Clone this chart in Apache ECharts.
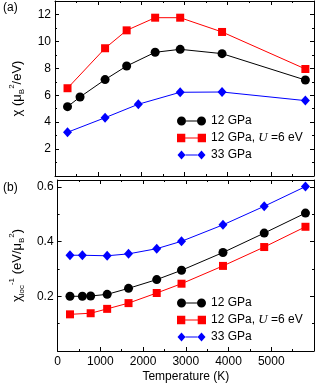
<!DOCTYPE html>
<html><head><meta charset="utf-8">
<script src="https://cdn.jsdelivr.net/npm/echarts@6/dist/echarts.min.js"></script>
<style>html,body{margin:0;padding:0;background:#fff}#c{width:317px;height:384px}</style>
</head><body><div id="c"></div>
<script>
// ---- data ----
const T_top_12 = [290, 580, 1160, 1660, 2320, 2900, 3870, 5800];
const chi_12   = [5.15, 5.87, 7.16, 8.17, 9.19, 9.41, 9.09, 7.13];
const T_top_U6 = [290, 1160, 1660, 2320, 2900, 3870, 5800];
const chi_U6   = [6.52, 9.49, 10.82, 11.76, 11.76, 10.70, 7.95];
const T_top_33 = [290, 1160, 1930, 2900, 3870, 5800];
const chi_33   = [3.25, 4.33, 5.33, 6.22, 6.24, 5.60];

const T_bot_12 = [290, 580, 774, 1160, 1660, 2320, 2900, 3870, 4835, 5800];
const inv_12   = [0.200, 0.200, 0.201, 0.207, 0.229, 0.261, 0.295, 0.360, 0.431, 0.504];
const T_bot_U6 = [290, 774, 1160, 1660, 2320, 2900, 3870, 4835, 5800];
const inv_U6   = [0.134, 0.138, 0.154, 0.175, 0.212, 0.246, 0.311, 0.380, 0.454];
const T_bot_33 = [290, 580, 1160, 1660, 2320, 2900, 3870, 4835, 5800];
const inv_33   = [0.350, 0.350, 0.348, 0.355, 0.374, 0.401, 0.461, 0.529, 0.601];

const seriesNames = ['12 GPa', '12 GPa, U=6 eV', '33 GPa'];
const xTickLabels = ['0', '1000', '2000', '3000', '4000', '5000'];

// ---- styling ----
const FONT = 'Liberation Sans, Arial, Helvetica, sans-serif';
const colors = ['#000000', '#ff0000', '#0000ff'];
const zip = (a, b) => a.map((v, i) => [v, b[i]]);

const iconCircle = 'path://M0,4.5A4.5,4.5 0 1,1 9,4.5A4.5,4.5 0 1,1 0,4.5Z M20,4.5A4.5,4.5 0 1,1 29,4.5A4.5,4.5 0 1,1 20,4.5Z M9,4 L20,4 L20,5 L9,5Z';
const iconSquare = 'path://M0.5,0.5 L8.5,0.5 L8.5,8.5 L0.5,8.5Z M20.5,0.5 L28.5,0.5 L28.5,8.5 L20.5,8.5Z M8.5,4 L20.5,4 L20.5,5 L8.5,5Z';
const iconDiamond = 'path://M0.5,4.5 L4.5,0 L8.5,4.5 L4.5,9Z M20.5,4.5 L24.5,0 L28.5,4.5 L24.5,9Z M8.5,4 L20.5,4 L20.5,5 L8.5,5Z';
const icons = [iconCircle, iconSquare, iconDiamond];
const symbols = ['circle', 'rect', 'diamond'];
const symSizes = [9, 8, [9, 10]];

const grids = [
  {left: 46, top: 1, width: 268, height: 175},
  {left: 46, top: 180, width: 268, height: 175}
];

function xAx(grid, pos, labels) {
  return {
    type: 'value', gridIndex: grid, position: pos, min: 0, max: 6000, interval: 1000,
    axisLine: {show: true, onZero: false, lineStyle: {color: '#000', width: 1}},
    axisTick: {show: true, inside: true, length: 4, lineStyle: {color: '#000'}},
    minorTick: {show: true, splitNumber: 2, length: 2, lineStyle: {color: '#000'}},
    splitLine: {show: false},
    axisLabel: {show: labels, showMaxLabel: false, color: '#000', fontFamily: FONT, fontSize: 12, margin: 5,
      formatter: v => xTickLabels[Math.round(v / 1000)] || ''},
    name: labels ? 'Temperature (K)' : '',
    nameLocation: 'middle', nameGap: 20,
    nameTextStyle: {color: '#000', fontFamily: FONT, fontSize: 12}
  };
}
function yAx(grid, pos, max, interval, labels, dec, name) {
  return {
    type: 'value', gridIndex: grid, position: pos, min: 0, max: max, interval: interval,
    axisLine: {show: true, onZero: false, lineStyle: {color: '#000', width: 1}},
    axisTick: {show: true, inside: true, length: 4, lineStyle: {color: '#000'}},
    minorTick: {show: true, splitNumber: 2, length: 2, lineStyle: {color: '#000'}},
    splitLine: {show: false},
    axisLabel: {show: labels, showMinLabel: false, showMaxLabel: false, color: '#000', fontFamily: FONT, fontSize: 12, margin: 4,
      formatter: v => dec ? v.toFixed(1) : String(Math.round(v))},
    name: name || '', nameLocation: 'middle', nameGap: 29, nameRotate: 90,
    nameTextStyle: {color: '#000', fontFamily: FONT, fontSize: 13, lineHeight: 18,
      rich: {
        b: {fontFamily: FONT, fontSize: 13, lineHeight: 18, color: '#000'},
        sub: {fontFamily: FONT, fontSize: 8, lineHeight: 9, verticalAlign: 'bottom', color: '#000'},
        sup: {fontFamily: FONT, fontSize: 8, lineHeight: 9, verticalAlign: 'top', color: '#000'}
      }}
  };
}

function mkSeries(i, xi, yi, T, v) {
  return {
    name: seriesNames[i], type: 'line', xAxisIndex: xi, yAxisIndex: yi,
    data: zip(T, v), symbol: symbols[i], symbolSize: symSizes[i],
    lineStyle: {color: colors[i], width: 1}, itemStyle: {color: colors[i]},
    animation: false, z: 3 - i + 2
  };
}

const legendText = {
  color: '#000', fontFamily: FONT, fontSize: 12, lineHeight: 14,
  rich: {
    n: {fontFamily: FONT, fontSize: 12, lineHeight: 14, color: '#000'},
    u: {fontFamily: 'Liberation Serif, Times New Roman, serif', fontStyle: 'italic', fontSize: 13, lineHeight: 14, color: '#000'}
  }
};
const legendFmt = n => n === seriesNames[1] ? '{n|12 GPa, }{u|U}{n| =6 eV}' : '{n|' + n + '}';
function mkLegend(top) {
  return {
    orient: 'vertical', left: 177, top: top, padding: 0, itemGap: 3, itemWidth: 29, itemHeight: 9,
    data: seriesNames.map((n, i) => ({name: n, icon: icons[i], itemStyle: {color: colors[i]}})),
    formatter: legendFmt, textStyle: legendText, selectedMode: false
  };
}

const chart = echarts.init(document.getElementById('c'), null, {renderer: 'canvas'});
chart.setOption({
  animation: false,
  backgroundColor: '#fff',
  grid: grids,
  xAxis: [xAx(0, 'bottom', false), xAx(0, 'top', false), xAx(1, 'bottom', true), xAx(1, 'top', false)],
  yAxis: [
    yAx(0, 'left', 13, 2, true, false, '{b|χ (μ}{sub|B}{sup|2}{b|/eV)}'),
    yAx(0, 'right', 13, 2, false, false),
    yAx(1, 'left', 0.625, 0.2, true, true, '{b|χ}{sub|loc}{sup|-1}{b| (eV/μ}{sub|B}{sup|2}{b|)}'),
    yAx(1, 'right', 0.625, 0.2, false, true)
  ],
  legend: [mkLegend(114), mkLegend(296)],
  graphic: [
    {type: 'text', left: 3, top: 2, style: {text: '(a)', font: '12px ' + FONT, fill: '#000'}},
    {type: 'text', left: 3, top: 182, style: {text: '(b)', font: '12px ' + FONT, fill: '#000'}}
  ],
  series: [
    mkSeries(0, 0, 0, T_top_12, chi_12),
    mkSeries(1, 0, 0, T_top_U6, chi_U6),
    mkSeries(2, 0, 0, T_top_33, chi_33),
    mkSeries(0, 2, 2, T_bot_12, inv_12),
    mkSeries(1, 2, 2, T_bot_U6, inv_U6),
    mkSeries(2, 2, 2, T_bot_33, inv_33)
  ]
});
</script></body></html>
